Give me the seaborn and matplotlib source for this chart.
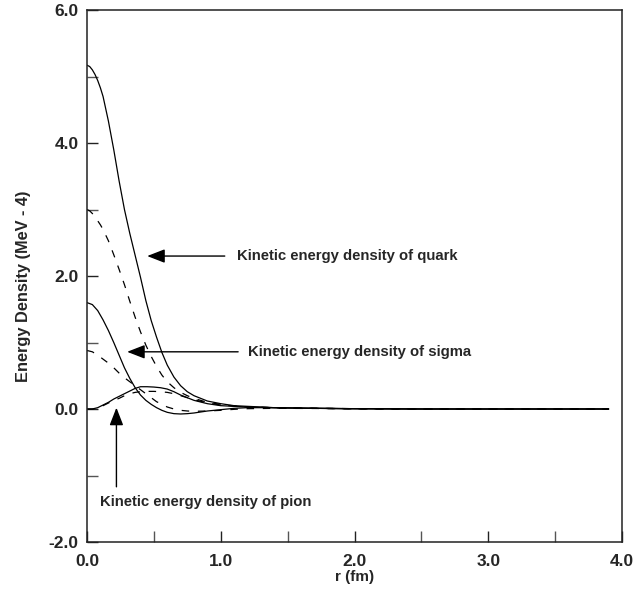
import numpy as np
import pandas as pd
import matplotlib
matplotlib.use("Agg")
import matplotlib.pyplot as plt
import seaborn as sns

# ---- data ----
r_quark = [0.00, 0.02, 0.04, 0.06, 0.08, 0.10, 0.12, 0.16, 0.20, 0.24, 0.28, 0.32, 0.36, 0.40, 0.44,
           0.48, 0.52, 0.56, 0.60, 0.65, 0.70, 0.75, 0.80, 0.90, 1.00, 1.10, 1.20, 1.40, 1.70, 2.00,
           2.50, 3.90]
quark_solid = [5.17, 5.15, 5.10, 5.03, 4.94, 4.83, 4.70, 4.33, 3.90, 3.43, 3.00, 2.64, 2.31, 1.98, 1.63,
               1.33, 1.08, 0.85, 0.66, 0.48, 0.35, 0.26, 0.20, 0.12, 0.08, 0.05, 0.04, 0.02, 0.01, 0.004,
               0.0, 0.0]
quark_dashed = [3.00, 2.98, 2.94, 2.89, 2.83, 2.77, 2.70, 2.53, 2.32, 2.10, 1.87, 1.62, 1.38, 1.16, 0.96,
                0.79, 0.64, 0.51, 0.41, 0.32, 0.25, 0.20, 0.16, 0.10, 0.07, 0.045, 0.03, 0.02, 0.01, 0.003,
                0.0, 0.0]

r_sigma = [0.00, 0.04, 0.08, 0.12, 0.16, 0.20, 0.24, 0.28, 0.32, 0.36, 0.40, 0.44, 0.48, 0.52, 0.56,
           0.60, 0.65, 0.70, 0.75, 0.80, 0.90, 1.00, 1.10, 1.20, 1.40, 1.70, 2.00, 2.50, 3.90]
sigma_solid = [1.60, 1.57, 1.48, 1.34, 1.18, 1.00, 0.81, 0.62, 0.46, 0.32, 0.21, 0.13, 0.07, 0.02, -0.02,
               -0.05, -0.07, -0.075, -0.07, -0.06, -0.03, -0.01, 0.01, 0.02, 0.02, 0.01, 0.005, 0.0, 0.0]
sigma_dashed = [0.88, 0.86, 0.81, 0.75, 0.69, 0.62, 0.54, 0.47, 0.41, 0.35, 0.29, 0.23, 0.17, 0.11, 0.07,
                0.03, 0.00, -0.02, -0.03, -0.035, -0.03, -0.02, -0.005, 0.005, 0.01, 0.008, 0.005, 0.0, 0.0]

r_pion = [0.00, 0.04, 0.08, 0.12, 0.16, 0.20, 0.24, 0.28, 0.32, 0.36, 0.40, 0.45, 0.50, 0.55, 0.60,
          0.65, 0.70, 0.75, 0.80, 0.90, 1.00, 1.20, 1.50, 2.00, 2.50, 3.90]
pion_solid = [0.00, 0.00, 0.02, 0.06, 0.10, 0.15, 0.19, 0.23, 0.27, 0.31, 0.335, 0.335, 0.33, 0.32, 0.30,
              0.26, 0.21, 0.17, 0.13, 0.08, 0.05, 0.03, 0.015, 0.005, 0.0, 0.0]
pion_dashed = [0.00, 0.00, 0.015, 0.05, 0.09, 0.13, 0.16, 0.20, 0.23, 0.25, 0.26, 0.265, 0.265, 0.26, 0.25,
               0.23, 0.20, 0.17, 0.14, 0.09, 0.06, 0.03, 0.015, 0.005, 0.0, 0.0]

y_ticks = [-2.0, 0.0, 2.0, 4.0, 6.0]
y_tick_labels = ["-2.0", "0.0", "2.0", "4.0", "6.0"]
x_ticks = [0.0, 1.0, 2.0, 3.0, 4.0]
x_tick_labels = ["0.0", "1.0", "2.0", "3.0", "4.0"]

labels = ["Kinetic energy density of quark", "Kinetic energy density of sigma",
          "Kinetic energy density of pion"]

# ---- styling ----
sns.set_theme(style="ticks")
plt.rcParams['font.family'] = ['Liberation Sans', 'DejaVu Sans']

fig = plt.figure(figsize=(6.36, 5.96), dpi=100)
ax = fig.add_axes([87/636, 54/596, 535/636, 532/596])

series = [
    (r_quark, quark_solid, False),
    (r_quark, quark_dashed, True),
    (r_sigma, sigma_solid, False),
    (r_sigma, sigma_dashed, True),
    (r_pion, pion_solid, False),
    (r_pion, pion_dashed, True),
]
for rr, vv, is_dash in series:
    df = pd.DataFrame({"r": rr, "v": vv})
    sns.lineplot(data=df, x="r", y="v", ax=ax, sort=False, estimator=None,
                 color="black", linewidth=0.9)
    if is_dash:
        ax.lines[-1].set_dashes((6, 7))

ax.set_xlim(0, 4)
ax.set_ylim(-2, 6)

ax.set_yticks(y_ticks)
ax.set_yticklabels(y_tick_labels, fontsize=12.5, fontweight="bold")
ax.set_yticks([-1, 1, 3, 5], minor=True)
ax.set_xticks(x_ticks)
ax.set_xticklabels(x_tick_labels, fontsize=12.5, fontweight="bold")
ax.set_xticks([0.5, 1.5, 2.5, 3.5], minor=True)

ax.tick_params(axis="both", which="major", direction="in", length=8, width=1.0,
               color="#222222", pad=6)
ax.tick_params(axis="both", which="minor", direction="in", length=8, width=1.0,
               color="#555555")
ax.tick_params(axis="x", which="major", pad=9)

for s in ax.spines.values():
    s.set_visible(True)
    s.set_linewidth(1.1)
    s.set_color("#222222")

ax.set_xlabel("r (fm)", fontsize=11, fontweight="bold", labelpad=0)
ax.set_ylabel("Energy Density (MeV - 4)", fontsize=11.8, fontweight="bold")
ax.yaxis.set_label_coords(-0.105, 0.48)

arrow = dict(arrowstyle="-|>,head_length=0.9,head_width=0.35", color="black",
             linewidth=1.0, shrinkA=0, shrinkB=0, mutation_scale=12)

ax.annotate("", xy=(0.45, 2.30), xytext=(1.03, 2.30), arrowprops=arrow)
ax.text(1.12, 2.30, labels[0], fontsize=10.7, fontweight="bold", ha="left", va="center")

ax.annotate("", xy=(0.30, 0.86), xytext=(1.13, 0.86), arrowprops=arrow)
ax.text(1.20, 0.86, labels[1], fontsize=10.7, fontweight="bold", ha="left", va="center")

ax.annotate("", xy=(0.22, 0.02), xytext=(0.22, -1.17), arrowprops=arrow)
ax.text(0.097, -1.40, labels[2], fontsize=10.7, fontweight="bold", ha="left", va="center")

fig.savefig("out.png", dpi=100)
